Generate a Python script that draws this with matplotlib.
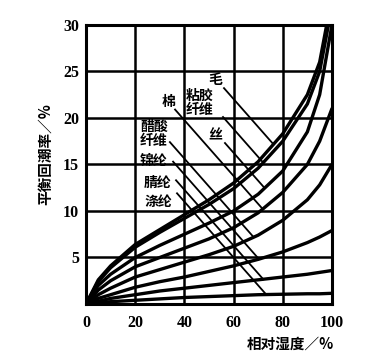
import numpy as np
import matplotlib
matplotlib.use('Agg')
import matplotlib.pyplot as plt

plt.rcParams['font.family'] = ['Noto Sans CJK SC', 'DejaVu Sans']

# 相对湿度 (%) 与各纤维的平衡回潮率 (%)
rh = [0, 5, 10, 20, 30, 40, 50, 60, 70, 80, 90, 95, 100]
wool = [0, 2.6, 4.1, 6.4, 8.0, 9.6, 11.2, 13.0, 15.3, 18.3, 22.5, 26.0, 33.0]
viscose = [0, 2.4, 3.9, 6.1, 7.7, 9.2, 10.7, 12.4, 14.6, 17.5, 21.5, 25.0, 32.0]
silk = [0, 2.0, 3.2, 5.0, 6.3, 7.5, 8.7, 10.0, 11.8, 14.3, 18.5, 22.5, 30.0]
cotton = [0, 1.5, 2.5, 4.0, 5.0, 6.0, 7.0, 8.2, 9.8, 12.0, 15.0, 17.5, 21.0]
acetate = [0, 1.0, 1.7, 2.9, 3.7, 4.5, 5.3, 6.2, 7.4, 9.0, 11.2, 12.8, 15.0]
nylon = [0, 0.6, 1.0, 1.8, 2.4, 2.9, 3.5, 4.1, 4.8, 5.6, 6.6, 7.2, 7.9]
acrylic = [0, 0.3, 0.6, 1.0, 1.4, 1.7, 2.0, 2.3, 2.6, 2.9, 3.2, 3.4, 3.6]
polyester = [0, 0.15, 0.25, 0.4, 0.55, 0.7, 0.8, 0.9, 1.0, 1.05, 1.1, 1.1, 1.15]

curves = [wool, viscose, silk, cotton, acetate, nylon, acrylic, polyester]
names = ['毛', '粘胶\n纤维', '丝', '棉', '醋酸\n纤维', '锦纶', '腈纶', '涤纶']
# 标注文字位置 (数据坐标)
label_x = [52.4, 46.3, 52.4, 33.7, 27.6, 27.6, 29.3, 29.3]
label_y = [24.1, 21.6, 18.1, 21.7, 18.3, 15.4, 13.0, 11.0]
# 引线起点
lead_x = [56.1, 55.7, 56.5, 36.2, 34.1, 35.4, 36.6, 37.0]
lead_y = [23.2, 20.1, 17.3, 20.9, 17.4, 15.3, 13.3, 11.9]
lead_k = 0.30

fig = plt.figure(figsize=(3.66, 3.63), dpi=100)
ax = fig.add_axes([0.235, 0.1625, 0.672, 0.769])

for ys in curves:
    ax.plot(rh, ys, color='k', lw=2.4, solid_capstyle='round')

# 引线: 从文字斜向下画到对应曲线
for x0, y0, ys in zip(lead_x, lead_y, curves):
    grid = np.linspace(x0, 100, 3000)
    cy = np.interp(grid, rh, ys)
    ly = y0 - lead_k * (grid - x0)
    i = np.argmax(ly <= cy)
    ax.plot([x0, grid[i]], [y0, ly[i]], color='k', lw=1.3)

for name, tx, ty in zip(names, label_x, label_y):
    ax.text(tx, ty, name, ha='center', va='center', fontsize=10,
            fontweight='bold', linespacing=1.0)

ax.set_xlim(0, 100)
ax.set_ylim(0, 30)
ax.set_xticks([0, 20, 40, 60, 80, 100])
ax.set_yticks([5, 10, 15, 20, 25, 30])
ax.grid(True, color='k', lw=1.8)
ax.set_axisbelow(True)
ax.tick_params(length=0, pad=5)
ax.tick_params(axis='x', pad=8)
for lab in ax.get_xticklabels() + ax.get_yticklabels():
    lab.set_fontfamily('Liberation Serif')
    lab.set_fontweight('bold')
    lab.set_fontsize(11.5)
for sp in ax.spines.values():
    sp.set_linewidth(2.2)

fig.text(45 / 366, 1 - 154 / 363, '平衡回潮率／%', rotation=90, ha='center',
         va='center', fontsize=10.5, fontweight='bold')
fig.text(290 / 366, 1 - 344 / 363, '相对湿度／%', ha='center', va='center',
         fontsize=10.5, fontweight='bold')

fig.savefig('out.png', dpi=100)
